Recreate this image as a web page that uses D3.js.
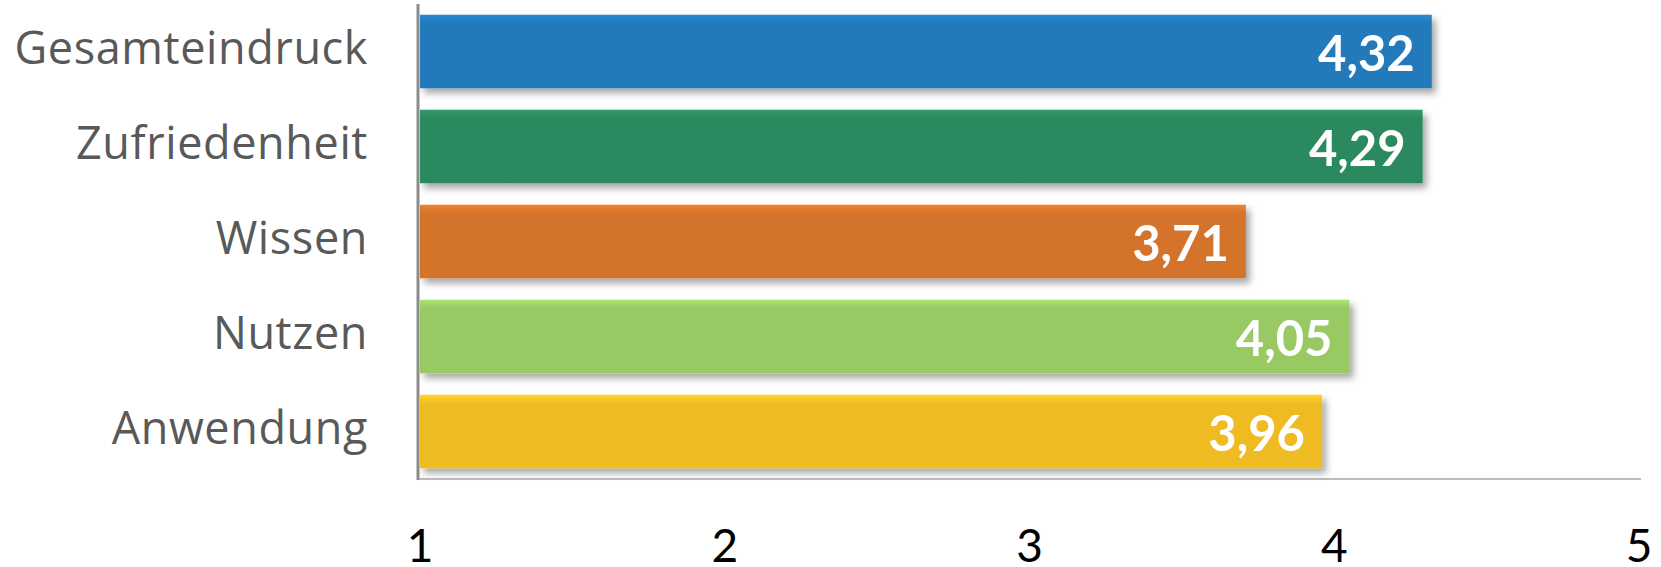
<!DOCTYPE html>
<html><head><meta charset="utf-8">
<script src="https://cdn.jsdelivr.net/npm/d3@7"></script>
<style>html,body{margin:0;padding:0;background:#fff;overflow:hidden}</style>
</head><body>
<svg id="chart" width="1661" height="567"></svg>
<script>
const categories = ["Gesamteindruck","Zufriedenheit","Wissen","Nutzen","Anwendung"];
const values = [4.32, 4.29, 3.71, 4.05, 3.96];
const colors = ["#237ABA","#2C895E","#D4732A","#98C964","#EEBC24"];
const tickValues = [1,2,3,4,5];

const svg = d3.select("#chart");
const x = d3.scaleLinear().domain([1,5]).range([420,1639]);
const y = d3.scaleBand().domain(categories).range([4,479]).paddingInner(0.226).paddingOuter(0.113);

const defs = svg.append("defs");
const f = defs.append("filter").attr("id","sh").attr("x","-5%").attr("y","-30%").attr("width","115%").attr("height","170%");
f.append("feDropShadow").attr("dx",4).attr("dy",5).attr("stdDeviation",3.5).attr("flood-color","#000").attr("flood-opacity",0.35);

colors.forEach((c,i)=>{
  const g = defs.append("linearGradient").attr("id","g"+i).attr("x1",0).attr("y1",0).attr("x2",0).attr("y2",1);
  g.append("stop").attr("offset","0%").attr("stop-color",d3.color(c).brighter(0.35));
  g.append("stop").attr("offset","12%").attr("stop-color",c);
  g.append("stop").attr("offset","100%").attr("stop-color",c);
});

// horizontal axis line
svg.append("line").attr("x1",418).attr("x2",x(5)+2).attr("y1",479).attr("y2",479)
  .attr("stroke","#a6a6a6").attr("stroke-width",1.5);

// bars
svg.selectAll("rect.bar").data(categories).join("rect").attr("class","bar")
  .attr("x",x(1)).attr("y",d=>y(d))
  .attr("width",(d,i)=>x(values[i])-x(1)).attr("height",y.bandwidth())
  .attr("fill",(d,i)=>"url(#g"+i+")").attr("filter","url(#sh)");

// vertical axis line
svg.append("line").attr("x1",418).attr("x2",418).attr("y1",4).attr("y2",480)
  .attr("stroke","#8c8c8c").attr("stroke-width",3);

// category labels
svg.selectAll("text.cat").data(categories).join("text").attr("class","cat")
  .attr("x",368).attr("y",d=>y(d)+y.bandwidth()/2+12)
  .attr("text-anchor","end").attr("fill","#595959")
  .style("font-family","'Open Sans', Lato, sans-serif").style("font-size","45px")
  .style("letter-spacing","0.6px")
  .text(d=>d);

// value labels
svg.selectAll("text.val").data(categories).join("text").attr("class","val")
  .attr("x",(d,i)=>x(values[i])-17).attr("y",d=>y(d)+y.bandwidth()/2+19)
  .attr("text-anchor","end").attr("fill","#fff")
  .style("font-family","Lato, 'Open Sans', sans-serif").style("font-weight","bold").style("font-size","49px")
  .text((d,i)=>values[i].toFixed(2).replace(".",","));

// tick labels
svg.selectAll("text.tick").data(tickValues).join("text").attr("class","tick")
  .attr("x",d=>x(d)).attr("y",562).attr("text-anchor","middle").attr("fill","#000")
  .style("font-family","Lato, 'Open Sans', sans-serif").style("font-size","46px")
  .text(d=>d);
</script>
</body></html>
